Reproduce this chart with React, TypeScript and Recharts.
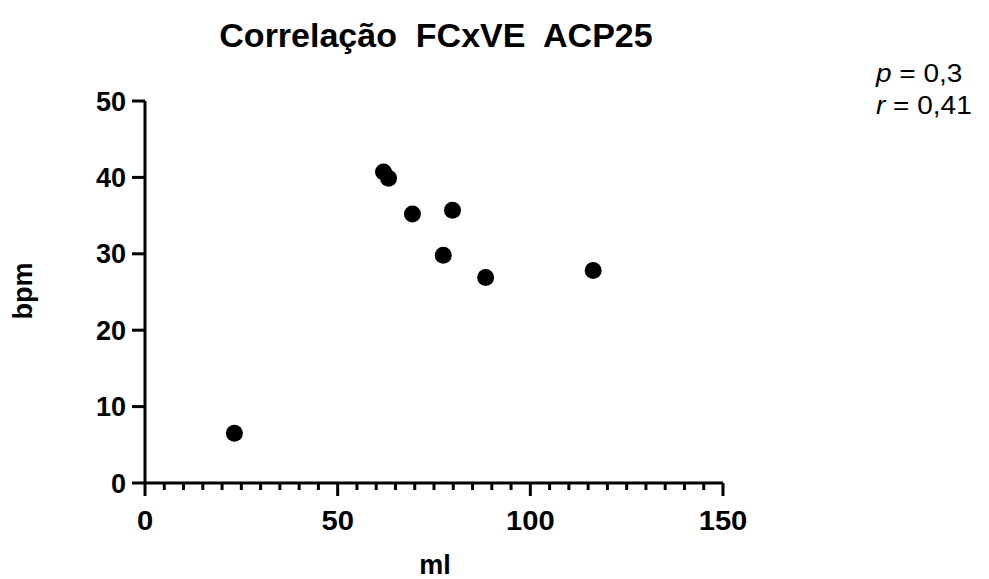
import { ScatterChart, Scatter, XAxis, YAxis, Customized } from "recharts";

const FONT = '"Liberation Sans", Arial, Helvetica, sans-serif';

// volume (ml) vs frequência cardíaca (bpm)
const mlValues = [23.2, 61.9, 63.2, 69.4, 79.8, 77.4, 88.4, 116.3];
const bpmValues = [6.5, 40.7, 39.9, 35.2, 35.7, 29.8, 26.9, 27.8];

const xTicks = [
  0, 5, 10, 15, 20, 25, 30, 35, 40, 45, 50, 55, 60, 65, 70, 75, 80, 85, 90, 95, 100,
  105, 110, 115, 120, 125, 130, 135, 140, 145, 150,
];
const xMajorTicks = [0, 50, 100, 150];
const yTicks = [0, 10, 20, 30, 40, 50];

const title = "Correlação  FCxVE  ACP25";
const statsLines = [
  { sym: "p", value: "0,3" },
  { sym: "r", value: "0,41" },
];

const points = mlValues.map((ml, i) => ({ ml, bpm: bpmValues[i] }));

function XTick(props: any) {
  const { x, y, payload } = props;
  const major = xMajorTicks.includes(payload.value);
  return (
    <g>
      <line x1={x} y1={y} x2={x} y2={y + (major ? 13 : 7)} stroke="#000" strokeWidth={3} />
      {major && (
        <text
          transform={`translate(${x}, ${y + 47}) scale(1.08, 1)`}
          textAnchor="middle"
          fontSize={27}
          fontWeight={700}
          fontFamily={FONT}
          fill="#000"
        >
          {payload.value}
        </text>
      )}
    </g>
  );
}

function Overlay() {
  return (
    <g fontFamily={FONT} fill="#000">
      <text x={436} y={47} textAnchor="middle" fontSize={34} fontWeight={700} style={{ whiteSpace: "pre" }}>
        {title}
      </text>
      <text x={435} y={574} textAnchor="middle" fontSize={27} fontWeight={700}>
        ml
      </text>
      <text
        x={0}
        y={0}
        transform="translate(32, 291) rotate(-90)"
        textAnchor="middle"
        fontSize={27}
        fontWeight={700}
      >
        bpm
      </text>
      {statsLines.map((s, i) => (
        <text
          key={s.sym}
          transform={`translate(876, ${81.5 + i * 32.5}) scale(1.12, 1)`}
          fontSize={25}
        >
          <tspan fontStyle="italic">{s.sym}</tspan>
          <tspan>{` = ${s.value}`}</tspan>
        </text>
      ))}
    </g>
  );
}

export default function App() {
  return (
    <div style={{ position: "absolute", left: 0, top: 0, background: "#fff" }}>
      <ScatterChart
        width={989}
        height={579}
        margin={{ top: 101, right: 266, bottom: 36, left: 85 }}
      >
        <XAxis
          type="number"
          dataKey="ml"
          domain={[0, 150]}
          ticks={xTicks}
          interval={0}
          height={60}
          tickSize={0}
          tickMargin={0}
          tickLine={false}
          axisLine={{ stroke: "#000", strokeWidth: 3 }}
          tick={<XTick />}
        />
        <YAxis
          type="number"
          dataKey="bpm"
          domain={[0, 50]}
          ticks={yTicks}
          interval={0}
          width={60}
          tickSize={13}
          tickMargin={6}
          tickLine={{ stroke: "#000", strokeWidth: 3 }}
          axisLine={{ stroke: "#000", strokeWidth: 3 }}
          tick={{ fill: "#000", fontSize: 27, fontWeight: 700, fontFamily: FONT }}
        />
        <Scatter
          data={points}
          fill="#000"
          isAnimationActive={false}
          shape={(p: any) => <circle cx={p.cx} cy={p.cy} r={8.5} fill="#000" />}
        />
        <Customized component={<Overlay />} />
      </ScatterChart>
    </div>
  );
}
